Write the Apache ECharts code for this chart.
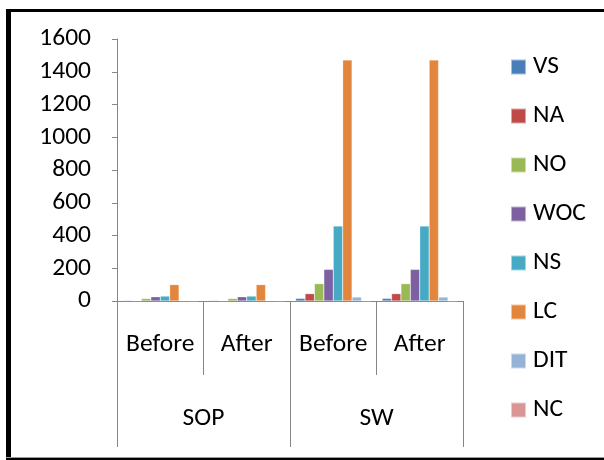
<!DOCTYPE html>
<html>
<head>
<meta charset="utf-8">
<script src="https://cdn.jsdelivr.net/npm/echarts@6/dist/echarts.min.js"></script>
<style>html,body{margin:0;padding:0;background:#fff;}#c{width:604px;height:460px;}</style>
</head>
<body>
<div id="c"></div>
<script>
const phases = ['Before', 'After', 'Before', 'After'];
const groups = ['SOP', 'SW'];
const seriesNames = ['VS', 'NA', 'NO', 'WOC', 'NS', 'LC', 'DIT', 'NC'];
const VS  = [4, 4, 16, 16];
const NA  = [3, 3, 45, 45];
const NO  = [15, 15, 106, 106];
const WOC = [26, 26, 193, 193];
const NS  = [30, 30, 458, 458];
const LC  = [100, 100, 1472, 1472];
const DIT = [3, 3, 24, 24];
const NC  = [1, 1, 1, 1];
const yTicks = [0, 1600, 200];

const values = [VS, NA, NO, WOC, NS, LC, DIT, NC];
const colors = ['#4A7EBB', '#BE4B48', '#98B954', '#7D60A0', '#46AAC5', '#E2863D', '#95B3D7', '#D99694'];
const FONT = 'Carlito, Calibri, Lato, sans-serif';
const FS = 25.5;

const chart = echarts.init(document.getElementById('c'), null, {renderer: 'canvas'});
chart.setOption({
  animation: false,
  backgroundColor: '#fff',
  color: colors,
  grid: {left: 117, top: 39, right: 141, bottom: 159, containLabel: false},
  legend: {
    orient: 'vertical', left: 505, top: 49,
    itemWidth: 15, itemHeight: 15, itemGap: 23,
    icon: 'rect',
    textStyle: {fontFamily: FONT, fontSize: FS, color: '#000', lineHeight: 24, padding: [0, 0, 0, 2]},
    data: seriesNames
  },
  xAxis: [{
    type: 'category', data: phases,
    axisLine: {lineStyle: {color: '#868686', width: 1}},
    axisTick: {show: true, interval: 0, length: 74, lineStyle: {color: '#868686'}},
    axisLabel: {interval: 0, margin: 44, verticalAlign: 'middle', fontFamily: FONT, fontSize: FS, color: '#000'}
  }, {
    type: 'category', data: groups, position: 'bottom',
    axisLine: {show: false},
    axisTick: {show: true, interval: 0, length: 146, lineStyle: {color: '#868686'}},
    axisLabel: {interval: 0, margin: 118, verticalAlign: 'middle', fontFamily: FONT, fontSize: FS, color: '#000'}
  }],
  yAxis: {
    type: 'value', min: yTicks[0], max: yTicks[1], interval: yTicks[2],
    axisLine: {show: true, lineStyle: {color: '#868686'}},
    axisTick: {show: true, length: 5, lineStyle: {color: '#868686'}},
    splitLine: {show: false},
    axisLabel: {margin: 26, fontFamily: FONT, fontSize: FS, color: '#000', formatter: v => String(v)}
  },
  series: seriesNames.map((n, i) => ({
    name: n, type: 'bar', xAxisIndex: 0, data: values[i],
    barGap: '0%', barCategoryGap: '13%',
    itemStyle: {color: colors[i], borderColor: 'rgba(255,255,255,0.5)', borderWidth: 0.5}
  })),
  graphic: [
    {type: 'rect', shape: {x: 6, y: 9, width: 5, height: 451}, style: {fill: '#000'}},
    {type: 'rect', shape: {x: 6, y: 9, width: 598, height: 3}, style: {fill: '#000'}},
    {type: 'rect', shape: {x: 6, y: 457, width: 598, height: 1}, style: {fill: '#9a9a9a'}},
    {type: 'rect', shape: {x: 6, y: 458, width: 598, height: 2}, style: {fill: '#000'}}
  ]
});
</script>
</body>
</html>
